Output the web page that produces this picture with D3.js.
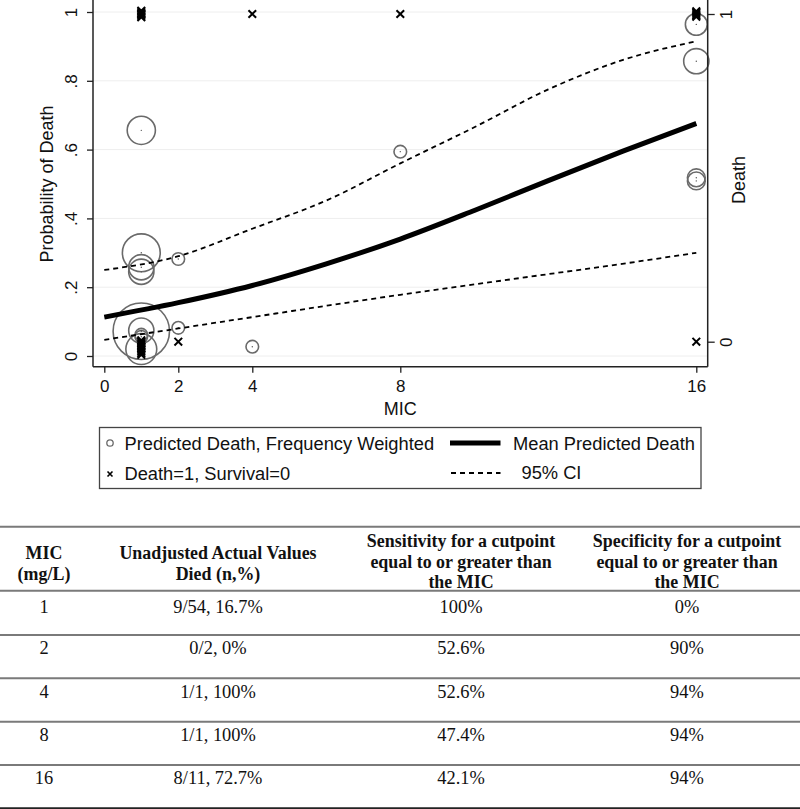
<!DOCTYPE html>
<html>
<head>
<meta charset="utf-8">
<script src="https://cdn.jsdelivr.net/npm/d3@7"></script>
<style>
  html, body { margin: 0; padding: 0; background: #fff; }
  svg { display: block; }
  .sans { font-family: "Liberation Sans", Arial, sans-serif; }
  .serif { font-family: "Liberation Serif", "Times New Roman", serif; }
</style>
</head>
<body>
<svg id="chart" width="800" height="809"></svg>
<script>
// ---------------- DATA ----------------
const xTicks = [0, 2, 4, 8, 16];
const yTicks = [0, 0.2, 0.4, 0.6, 0.8, 1];
const yTickLabels = ["0", ".2", ".4", ".6", ".8", "1"];
const rightTicks = [0, 1];

// Predicted death circles (frequency weighted)
const circleMIC    = [1, 1, 1, 1, 1, 1, 1, 1, 1, 2, 2, 4, 8, 16, 16, 16, 16];
const circleProb   = [0.656, 0.300, 0.258, 0.245, 0.072, 0.074, 0.062, 0.056, 0.020, 0.282, 0.082, 0.027, 0.594, 0.964, 0.857, 0.518, 0.509];
const circleWeight = [5, 9, 4, 4, 20, 4, 1, 1, 6, 1, 1, 1, 1, 3, 4, 2, 2];

// Observed outcome markers (Death=1, Survival=0), jittered as drawn
const deathMIC = [1, 1, 1, 1, 1, 1, 1, 4, 8, 16, 16, 16, 16, 16];
const deathVal = [0.990, 0.994, 0.998, 1.002, 1.006, 1.010, 1.000, 1.0, 1.0, 0.992, 0.996, 1.000, 1.004, 1.008];
const survMIC  = [1, 1, 1, 1, 1, 1, 1, 1, 1, 1, 2, 16];
const survVal  = [0.004, 0.0, -0.005, -0.010, -0.015, -0.020, -0.025, -0.030, -0.035, -0.040, 0.0, 0.0];

// Mean predicted death and 95% CI
const curveMIC  = [0, 2, 4, 6, 8, 10, 12, 14, 16];
const meanPred  = [0.113, 0.155, 0.205, 0.268, 0.340, 0.423, 0.510, 0.595, 0.676];
const upperCI   = [0.250, 0.290, 0.370, 0.452, 0.560, 0.665, 0.775, 0.860, 0.915];
const lowerCI   = [0.047, 0.080, 0.113, 0.146, 0.178, 0.208, 0.238, 0.268, 0.300];

// Legend
const legendItems = ["Predicted Death, Frequency Weighted", "Death=1, Survival=0", "Mean Predicted Death", "95% CI"];

// Table
const tableHeaders = [
  ["MIC", "(mg/L)"],
  ["Unadjusted Actual Values", "Died (n,%)"],
  ["Sensitivity for a cutpoint", "equal to or greater than", "the MIC"],
  ["Specificity for a cutpoint", "equal to or greater than", "the MIC"]
];
const tableMIC   = ["1", "2", "4", "8", "16"];
const tableDied  = ["9/54, 16.7%", "0/2, 0%", "1/1, 100%", "1/1, 100%", "8/11, 72.7%"];
const tableSens  = ["100%", "52.6%", "52.6%", "47.4%", "42.1%"];
const tableSpec  = ["0%", "90%", "94%", "94%", "94%"];

// ---------------- CHART ----------------
const svg = d3.select("#chart");
const plotL = 93, plotR = 707.7, plotB = 366.7, plotT = 0;

const x = d3.scaleLinear().domain([0, 16]).range([104.3, 696.3]);
const yL = d3.scaleLinear().domain([0, 1]).range([356, 12]);
const yR = d3.scaleLinear().domain([0, 1]).range([341.7, 14]);
const rScale = d3.scaleSqrt().domain([0, 20]).range([0, 28.2]);

// gridlines
svg.append("g").selectAll("line").data(yTicks).join("line")
  .attr("x1", plotL).attr("x2", plotR)
  .attr("y1", d => yL(d)).attr("y2", d => yL(d))
  .attr("stroke", "#eeeeee").attr("stroke-width", 1);

// circles
const circles = circleMIC.map((m, i) => ({ m, p: circleProb[i], w: circleWeight[i] }));
svg.append("g").selectAll("circle").data(circles).join("circle")
  .attr("cx", d => x(d.m)).attr("cy", d => yL(d.p)).attr("r", d => rScale(d.w))
  .attr("fill", "none").attr("stroke", "#6a6a6a").attr("stroke-width", 1.6);
svg.append("g").selectAll("circle").data(circles).join("circle")
  .attr("cx", d => x(d.m)).attr("cy", d => yL(d.p)).attr("r", 0.7)
  .attr("fill", "#555");

// curves
const line = d3.line().x(d => x(d[0])).y(d => yL(d[1])).curve(d3.curveMonotoneX);
svg.append("path").datum(curveMIC.map((m, i) => [m, upperCI[i]]))
  .attr("d", line).attr("fill", "none").attr("stroke", "#000").attr("stroke-width", 1.8).attr("stroke-dasharray", "5,4");
svg.append("path").datum(curveMIC.map((m, i) => [m, lowerCI[i]]))
  .attr("d", line).attr("fill", "none").attr("stroke", "#000").attr("stroke-width", 1.8).attr("stroke-dasharray", "5,4");
svg.append("path").datum(curveMIC.map((m, i) => [m, meanPred[i]]))
  .attr("d", line).attr("fill", "none").attr("stroke", "#000").attr("stroke-width", 5);

// x markers
const xSym = d3.symbol().type(d3.symbolX).size(40);
const marks = deathMIC.map((m, i) => ({ m, v: deathVal[i] }))
  .concat(survMIC.map((m, i) => ({ m, v: survVal[i] })));
svg.append("g").selectAll("path").data(marks).join("path")
  .attr("d", xSym)
  .attr("transform", d => `translate(${x(d.m)},${yR(d.v)})`)
  .attr("fill", "none").attr("stroke", "#000").attr("stroke-width", 2);

// axes lines
const axes = svg.append("g").attr("stroke", "#222").attr("stroke-width", 1.5);
axes.append("line").attr("x1", plotL).attr("x2", plotL).attr("y1", plotT).attr("y2", plotB);
axes.append("line").attr("x1", plotR).attr("x2", plotR).attr("y1", plotT).attr("y2", plotB);
axes.append("line").attr("x1", plotL).attr("x2", plotR).attr("y1", plotB).attr("y2", plotB);

// left axis
const gL = svg.append("g").attr("transform", `translate(${plotL},0)`)
  .call(d3.axisLeft(yL).tickValues(yTicks).tickSize(6).tickFormat((d, i) => yTickLabels[i]));
gL.select(".domain").remove();
gL.selectAll(".tick line").attr("stroke", "#222").attr("stroke-width", 1.3);
gL.selectAll(".tick text")
  .attr("class", "sans").attr("font-size", 17).attr("fill", "#111")
  .attr("x", null).attr("dy", null).attr("text-anchor", "middle")
  .attr("transform", "translate(-16,0) rotate(-90)");

// right axis
const gR = svg.append("g").attr("transform", `translate(${plotR},0)`)
  .call(d3.axisRight(yR).tickValues(rightTicks).tickSize(7).tickFormat(d3.format("d")));
gR.select(".domain").remove();
gR.selectAll(".tick line").attr("stroke", "#222").attr("stroke-width", 1.3);
gR.selectAll(".tick text")
  .attr("class", "sans").attr("font-size", 17).attr("fill", "#111")
  .attr("x", null).attr("dy", null).attr("text-anchor", "middle")
  .attr("transform", "translate(23.8,0) rotate(-90)");

// bottom axis
const gB = svg.append("g").attr("transform", `translate(0,${plotB})`)
  .call(d3.axisBottom(x).tickValues(xTicks).tickSize(6).tickFormat(d3.format("d")));
gB.select(".domain").remove();
gB.selectAll(".tick line").attr("stroke", "#222").attr("stroke-width", 1.3);
gB.selectAll(".tick text")
  .attr("class", "sans").attr("font-size", 17).attr("fill", "#111")
  .attr("y", 25).attr("dy", null);

// axis titles
svg.append("text").attr("class", "sans").attr("font-size", 18).attr("fill", "#111")
  .attr("text-anchor", "middle").attr("transform", "translate(53,184) rotate(-90)")
  .text("Probability of Death");
svg.append("text").attr("class", "sans").attr("font-size", 18).attr("fill", "#111")
  .attr("text-anchor", "middle").attr("transform", "translate(745,180) rotate(-90)")
  .text("Death");
svg.append("text").attr("class", "sans").attr("font-size", 18).attr("fill", "#111")
  .attr("text-anchor", "middle").attr("x", (plotL + plotR) / 2).attr("y", 415)
  .text("MIC");

// legend
const lg = svg.append("g");
lg.append("rect").attr("x", 99.5).attr("y", 427.5).attr("width", 601.5).attr("height", 61)
  .attr("fill", "#fff").attr("stroke", "#444").attr("stroke-width", 1.3);
lg.append("circle").attr("cx", 110).attr("cy", 443).attr("r", 3.2)
  .attr("fill", "none").attr("stroke", "#6a6a6a").attr("stroke-width", 1.3);
lg.append("path").attr("d", d3.symbol().type(d3.symbolX).size(18))
  .attr("transform", "translate(110,474)").attr("stroke", "#000").attr("stroke-width", 1.6).attr("fill", "none");
lg.append("line").attr("x1", 450).attr("x2", 500.5).attr("y1", 443).attr("y2", 443)
  .attr("stroke", "#000").attr("stroke-width", 5);
lg.append("line").attr("x1", 451).attr("x2", 500.5).attr("y1", 473).attr("y2", 473)
  .attr("stroke", "#000").attr("stroke-width", 1.8).attr("stroke-dasharray", "5,4");
const legPos = [[124.5, 450], [124.5, 480], [513, 450], [521.5, 479]];
lg.selectAll("text").data(legendItems).join("text")
  .attr("class", "sans").attr("font-size", 18.3).attr("fill", "#111")
  .attr("x", (d, i) => legPos[i][0]).attr("y", (d, i) => legPos[i][1])
  .text(d => d);

// ---------------- TABLE ----------------
const tbl = svg.append("g");
const colX = [44, 218, 461, 687];
const hLines = [526.7, 590.7, 635, 678.3, 721.7, 765, 808.3];
tbl.selectAll("line").data(hLines).join("line")
  .attr("x1", 0).attr("x2", 800)
  .attr("y1", d => d).attr("y2", d => d)
  .attr("stroke", (d, i) => i === hLines.length - 1 ? "#222" : "#7a7a7a")
  .attr("stroke-width", 2);

tableHeaders.forEach((lines, c) => {
  const base = lines.length === 3 ? 547 : 558.5;
  const step = lines.length === 3 ? 20.5 : 21.5;
  lines.forEach((t, k) => {
    tbl.append("text").attr("class", "serif").attr("font-size", 19.5).attr("font-weight", "bold")
      .attr("fill", "#111").attr("text-anchor", "middle")
      .attr("transform", `translate(${colX[c]},${base + k * step}) scale(0.92,1)`)
      .text(t);
  });
});
const rowBase = [612.5, 653.5, 697.5, 741, 783.5];
const cols = [tableMIC, tableDied, tableSens, tableSpec];
cols.forEach((col, c) => {
  col.forEach((t, r) => {
    tbl.append("text").attr("class", "serif").attr("font-size", 19)
      .attr("fill", "#111").attr("text-anchor", "middle")
      .attr("transform", `translate(${colX[c]},${rowBase[r]}) scale(0.97,1)`)
      .text(t);
  });
});
</script>
</body>
</html>
